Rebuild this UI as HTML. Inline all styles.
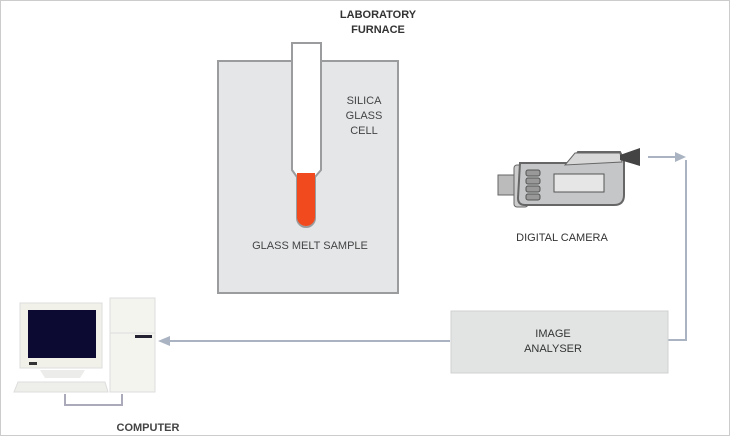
<!DOCTYPE html>
<html><head><style>body{margin:0;background:#fff}svg{display:block}</style></head><body>
<svg width="730" height="436" viewBox="0 0 730 436" xmlns="http://www.w3.org/2000/svg" font-family="Liberation Sans, sans-serif">
<rect x="0" y="0" width="730" height="436" fill="#fff"/>
<rect x="0.5" y="0.5" width="729" height="435" fill="none" stroke="#ccc"/>
<!-- furnace -->
<rect x="218" y="61" width="180" height="232" fill="#e4e6e8" stroke="#9a9c9e" stroke-width="2"/>
<path d="M292 43 H321 V170 L315 177 V218 A9 9 0 0 1 297 218 V177 L292 170 Z" fill="#fff" stroke="#9a9c9e" stroke-width="2"/>
<path d="M297 173 H315 V217 A9 9 0 0 1 297 217 Z" fill="#f04a1e"/>
<text x="378" y="18" font-size="11" font-weight="bold" fill="#333" text-anchor="middle">LABORATORY</text>
<text x="378" y="33" font-size="11" font-weight="bold" fill="#333" text-anchor="middle">FURNACE</text>
<g font-size="11" fill="#444" text-anchor="middle"><text x="364" y="104">SILICA</text><text x="364" y="119">GLASS</text><text x="364" y="134">CELL</text></g>
<text x="310" y="249" font-size="11" fill="#444" text-anchor="middle">GLASS MELT SAMPLE</text>
<!-- camera -->
<rect x="498" y="175" width="18" height="20" fill="#bbb" stroke="#666"/>
<rect x="514" y="165" width="14" height="42" rx="3" fill="#ccc" stroke="#666"/>
<path d="M520 163 H570 L578 152 H620 L624 160 V195 Q624 205 614 205 H525 Q518 205 518 198 Z" fill="#c4c6c8" stroke="#666" stroke-width="2"/>
<path d="M565 165 L575 153 H620 L622 162 Z" fill="#d8d8d8" stroke="#666"/>
<polygon points="620,155 640,148 640,166 620,160" fill="#444"/>
<g fill="#999" stroke="#555"><rect x="526" y="170" width="14" height="6" rx="2"/><rect x="526" y="178" width="14" height="6" rx="2"/><rect x="526" y="186" width="14" height="6" rx="2"/><rect x="526" y="194" width="14" height="6" rx="2"/></g>
<rect x="554" y="174" width="50" height="18" fill="#e6e6e6" stroke="#555"/>
<text x="562" y="241" font-size="11" fill="#333" text-anchor="middle">DIGITAL CAMERA</text>
<!-- connectors -->
<g stroke="#a9b3c2" stroke-width="2" fill="none">
<path d="M648 157 H676"/><path d="M686 160 V340 H656"/><path d="M450 341 H170"/>
</g>
<g fill="#a9b3c2"><polygon points="686,157 675,152 675,162"/><polygon points="646,340 657,335 657,345"/><polygon points="158,341 170,336 170,346"/></g>
<!-- analyser -->
<rect x="451" y="311" width="217" height="62" fill="#e2e4e4" stroke="#d0d0d0"/>
<text x="553" y="337" font-size="11" fill="#333" text-anchor="middle">IMAGE</text>
<text x="553" y="352" font-size="11" fill="#333" text-anchor="middle">ANALYSER</text>
<!-- computer -->
<rect x="20" y="303" width="82" height="65" fill="#f1f1ea" stroke="#ddd"/>
<rect x="28" y="310" width="68" height="48" fill="#0c0a33"/>
<rect x="29" y="362" width="8" height="3" fill="#333"/>
<path d="M40 370 H85 L80 378 H45 Z" fill="#ececea"/>
<path d="M18 382 H105 L108 392 H14 Z" fill="#eeeeea" stroke="#ddd"/>
<rect x="110" y="298" width="45" height="94" fill="#f4f4ee" stroke="#ddd"/>
<line x1="110" y1="333" x2="155" y2="333" stroke="#ddd"/>
<rect x="135" y="335" width="17" height="3" fill="#223"/>
<path d="M65 394 V405 H122 V394" fill="none" stroke="#aab" stroke-width="2"/>
<text x="148" y="431" font-size="11" font-weight="bold" fill="#444" text-anchor="middle">COMPUTER</text>
</svg>
</body></html>
